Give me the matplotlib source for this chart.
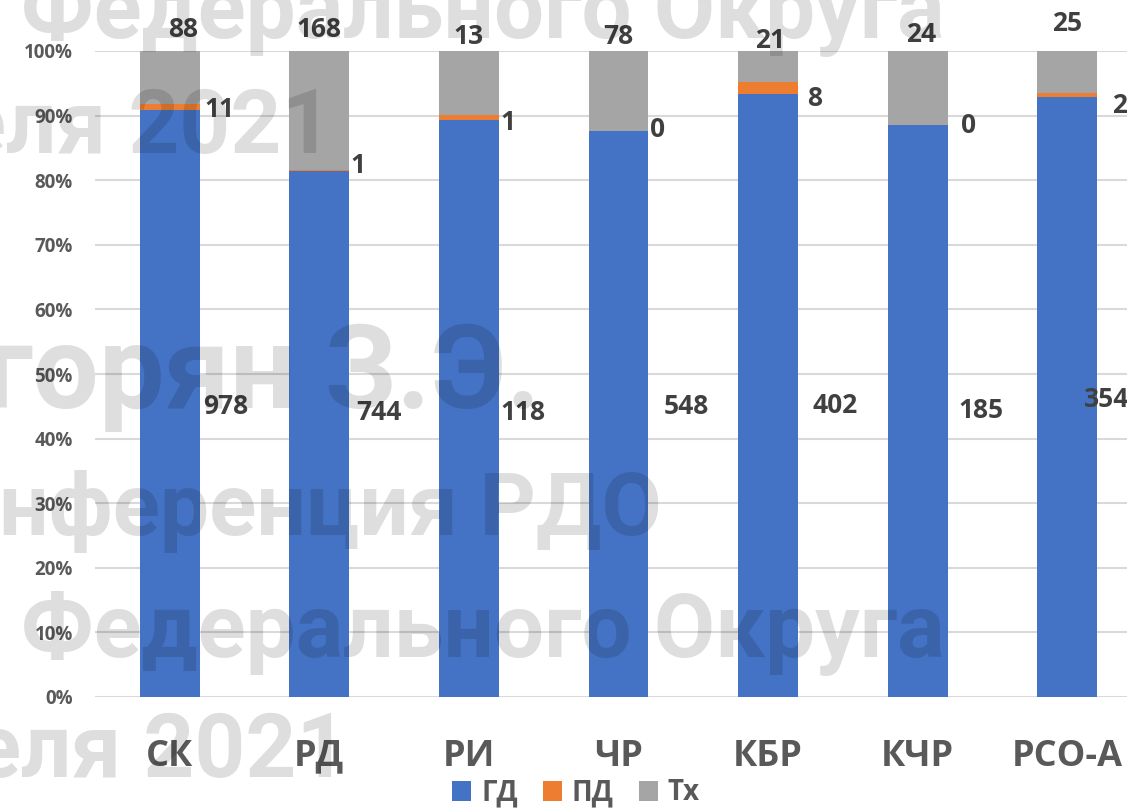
import matplotlib.pyplot as plt
import numpy as np

categories = ["СК", "РД", "РИ", "ЧР", "КБР", "КЧР", "РСО-А"]
gd = [978, 744, 118, 548, 402, 185, 354]
pd_ = [11, 1, 1, 0, 8, 0, 2]
tx = [88, 168, 13, 78, 21, 24, 25]

# label placement (hand-tuned like the original)
gd_lab_dx = [0.22, 0.25, 0.21, 0.30, 0.30, 0.27, 0.11]
gd_lab_y = [44.9, 44.1, 44.0, 44.9, 45.2, 44.4, 46.0]
pd_lab_dx = [0.23, 0.21, 0.21, 0.21, 0.26, 0.29, 0.30]
pd_lab_y = [91.0, 82.2, 89.0, 87.8, 92.6, 88.5, 91.5]
tx_lab_dx = [0.09, 0.0, 0.0, 0.0, 0.01, 0.02, 0.0]
tx_lab_y = [103.4, 103.4, 102.2, 102.2, 101.7, 102.6, 104.2]

plt.rcParams['font.family'] = ['Open Sans', 'DejaVu Sans']

gd_a = np.array(gd, float)
pd_a = np.array(pd_, float)
tx_a = np.array(tx, float)
tot = gd_a + pd_a + tx_a
gd_p = gd_a / tot * 100
pd_p = pd_a / tot * 100
tx_p = tx_a / tot * 100

fig = plt.figure(figsize=(11.27, 8.08), dpi=100)
ax = fig.add_axes([95/1127, 111/808, 1047/1127, 646/808])

x = np.arange(len(categories))
w = 0.4
ax.bar(x, gd_p, w, color='#4472C4', label='ГД', zorder=2)
ax.bar(x, pd_p, w, bottom=gd_p, color='#ED7D31', label='ПД', zorder=2)
ax.bar(x, tx_p, w, bottom=gd_p + pd_p, color='#A5A5A5', label='Тх', zorder=2)

ax.set_xlim(-0.5, len(categories) - 0.5)
ax.set_ylim(0, 100)
ax.set_yticks(np.arange(0, 101, 10))
ax.set_yticklabels([f"{v}%" for v in range(0, 101, 10)], fontsize=13.5,
                   fontweight='bold', color='#595959')
ax.set_xticks(x)
ax.set_xticklabels(categories, fontsize=26, fontweight='bold', color='#595959')
ax.tick_params(axis='both', length=0)
ax.tick_params(axis='y', pad=16)
ax.tick_params(axis='x', pad=30)
ax.yaxis.grid(True, color='#d9d9d9', lw=1.5, zorder=0)
ax.set_axisbelow(True)
for s in ax.spines.values():
    s.set_visible(False)

for i in range(len(categories)):
    ax.text(i + gd_lab_dx[i], gd_lab_y[i], str(gd[i]), ha='left', va='center',
            fontsize=19, fontweight='bold', color='#404040')
    ax.text(i + pd_lab_dx[i], pd_lab_y[i], str(pd_[i]), ha='left', va='center',
            fontsize=19, fontweight='bold', color='#404040')
    ax.text(i + tx_lab_dx[i], tx_lab_y[i], str(tx[i]), ha='center', va='center',
            fontsize=19, fontweight='bold', color='#404040')

leg = ax.legend(loc='center', bbox_to_anchor=(576/1127, 15/808),
                bbox_transform=fig.transFigure, ncol=3, frameon=False,
                prop={'size': 20, 'weight': 'bold'}, handlelength=0.7,
                handleheight=0.7, handletextpad=0.35, columnspacing=0.9)
for t in leg.get_texts():
    t.set_color('#595959')

# watermark
wm = dict(fontweight='bold', family='Roboto', color='black',
          alpha=0.13, ha='right', va='baseline', zorder=10)
fig.text(945/1127, 1 - 38/808, "Федерального Округа", fontsize=64, **wm)
fig.text(332/1127, 1 - 153/808, "еля 2021", fontsize=64, **wm)
fig.text(540/1127, 1 - 408/808, "горян З.Э.", fontsize=84, **wm)
fig.text(662/1127, 1 - 535/808, "нференция РДО", fontsize=63, **wm)
fig.text(945/1127, 1 - 657/808, "Федерального Округа", fontsize=64, **wm)
fig.text(347/1127, 1 - 777/808, "еля 2021", fontsize=64, **wm)

fig.savefig("out.png", dpi=100)
